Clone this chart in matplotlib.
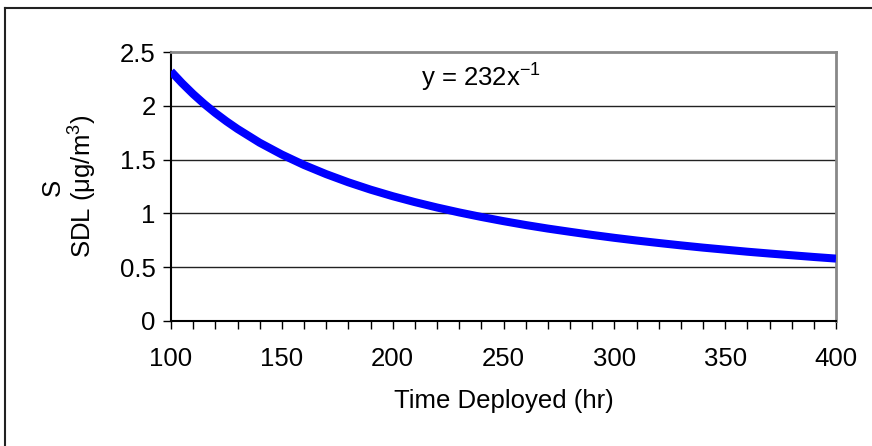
import matplotlib
matplotlib.use("Agg")
import matplotlib.pyplot as plt
from matplotlib.lines import Line2D
from matplotlib.ticker import MultipleLocator

plt.rcParams['font.family'] = ['Liberation Sans', 'DejaVu Sans']
plt.rcParams['mathtext.fontset'] = 'custom'
plt.rcParams['mathtext.rm'] = 'Liberation Sans'
plt.rcParams['mathtext.it'] = 'Liberation Sans:italic'
plt.rcParams['mathtext.bf'] = 'Liberation Sans:bold'

# Data
time_hr = [100, 105, 110, 115, 120, 125, 130, 140, 150, 160, 170, 180, 190, 200,
           210, 220, 230, 240, 250, 260, 270, 280, 290, 300,
           310, 320, 330, 340, 350, 360, 370, 380, 390, 400]
sdl = [2.320, 2.210, 2.109, 2.017, 1.933, 1.856, 1.785, 1.657, 1.547, 1.450, 1.365,
       1.289, 1.221, 1.160,
       1.105, 1.055, 1.009, 0.967, 0.928, 0.892, 0.859, 0.829, 0.800, 0.773,
       0.748, 0.725, 0.703, 0.682, 0.663, 0.644, 0.627, 0.611, 0.595, 0.580]
y_ticks = [0, 0.5, 1, 1.5, 2, 2.5]
y_tick_labels = ["0", "0.5", "1", "1.5", "2", "2.5"]
x_ticks = [100, 150, 200, 250, 300, 350, 400]
x_tick_labels = ["100", "150", "200", "250", "300", "350", "400"]
equation = r"y = 232x$^{\mathregular{-1}}$"
x_label = "Time Deployed (hr)"
y_label_1 = "S"
y_label_2 = r"SDL (μg/m$^{\mathregular{3}}$)"

W, H = 872, 446
fig = plt.figure(figsize=(W / 100, H / 100), dpi=100)
fs = 18.5

left, right, top, bottom = 171, 836, 52, 321
ax = fig.add_axes([left / W, 1 - bottom / H, (right - left) / W, (bottom - top) / H])

ax.plot(time_hr, sdl, color='#0000FF', lw=5.8, solid_capstyle='butt',
        solid_joinstyle='round', zorder=3)

ax.set_xlim(100, 400)
ax.set_ylim(0, 2.5)

for yv in y_ticks[1:-1]:
    ax.axhline(yv, color='#222222', lw=1.0, zorder=1)

ax.spines['top'].set_color('#888888')
ax.spines['top'].set_linewidth(2.0)
ax.spines['right'].set_color('#888888')
ax.spines['right'].set_linewidth(2.0)
ax.spines['left'].set_color('#000000')
ax.spines['left'].set_linewidth(1.5)
ax.spines['bottom'].set_color('#000000')
ax.spines['bottom'].set_linewidth(1.5)

ax.set_xticks(x_ticks)
ax.set_xticklabels(x_tick_labels, fontsize=fs)
ax.xaxis.set_minor_locator(MultipleLocator(10))
ax.set_yticks(y_ticks)
ax.set_yticklabels(y_tick_labels, fontsize=fs)

ax.tick_params(axis='x', which='both', direction='out', length=5.5, width=1.0,
               color='#000000', pad=13.5)
ax.tick_params(axis='y', which='major', direction='out', length=6, width=1.0,
               color='#000000', pad=5)

ax.set_xlabel(x_label, fontsize=fs, labelpad=13)

fig.text(53 / W, 1 - 187 / H, y_label_1, rotation=90, ha='center', va='center', fontsize=fs)
fig.text(83 / W, 1 - 186 / H, y_label_2, rotation=90, ha='center', va='center', fontsize=fs)

ax.text(213, 2.26, equation, fontsize=fs, ha='left', va='center')

# outer chart frame (only top and left visible)
fig.add_artist(Line2D([5 / W, 1.0], [1 - 8 / H, 1 - 8 / H], transform=fig.transFigure,
                      color='#222222', lw=1.5))
fig.add_artist(Line2D([5 / W, 5 / W], [1 - 8 / H, 0.0], transform=fig.transFigure,
                      color='#222222', lw=1.5))

fig.savefig("out.png", dpi=100)
